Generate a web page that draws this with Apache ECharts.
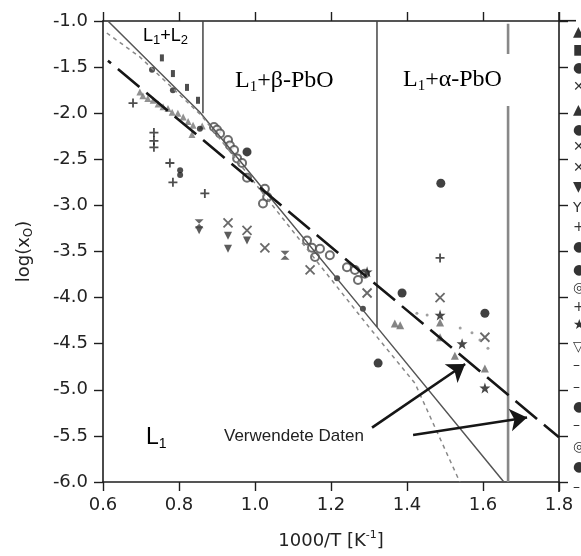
<!DOCTYPE html>
<html>
<head>
<meta charset="utf-8">
<script src="https://cdn.jsdelivr.net/npm/echarts@6.0.0/dist/echarts.min.js"></script>
<style>html,body{margin:0;padding:0;background:#fff;}#c{width:581px;height:556px;}</style>
</head>
<body>
<div id="c"></div>
<script>
// ---- data (1000/T [1/K], log(xO)) ----
const bandUpper = [[0.892,-2.15],[0.90,-2.18],[0.908,-2.22],[0.929,-2.29],[0.934,-2.35],[0.945,-2.40],[0.953,-2.49],[0.966,-2.54],[0.979,-2.70],[1.026,-2.82],[1.032,-2.91],[1.021,-2.98],[1.137,-3.38],[1.150,-3.46],[1.171,-3.47],[1.197,-3.54],[1.158,-3.56],[1.242,-3.67],[1.263,-3.70],[1.289,-3.74],[1.271,-3.81]];
const bandLower = [[0.697,-1.77],[0.705,-1.81],[0.718,-1.84],[0.732,-1.86],[0.745,-1.90],[0.758,-1.93],[0.771,-1.95],[0.782,-1.99],[0.797,-2.00],[0.811,-2.04],[0.824,-2.09],[0.837,-2.13],[0.834,-2.23],[0.861,-2.14]];
const barMarks = [[0.755,-1.40],[0.784,-1.57],[0.821,-1.72],[0.850,-1.86]];
const smallDots = [[0.729,-1.53],[0.784,-1.75],[0.803,-2.62],[0.803,-2.67],[0.855,-2.17],[1.216,-3.79],[1.284,-4.12]];
const bigDots = [[0.979,-2.42],[1.489,-2.76],[1.387,-3.95],[1.605,-4.17],[1.324,-4.71]];
const crosses = [[0.929,-3.19],[0.979,-3.27],[1.026,-3.46],[1.145,-3.70],[1.295,-3.95],[1.487,-4.00],[1.605,-4.43]];
const plusses = [[0.679,-1.89],[0.734,-2.21],[0.734,-2.30],[0.734,-2.37],[0.776,-2.54],[0.784,-2.75],[0.868,-2.87],[1.487,-3.57]];
const downTris = [[0.929,-3.33],[0.979,-3.38],[0.853,-3.27],[0.929,-3.47]];
const hourglasses = [[1.079,-3.54],[0.853,-3.20]];
const stars = [[1.295,-3.72],[1.487,-4.19],[1.545,-4.50],[1.605,-4.98]];
const grayTris = [[1.368,-4.28],[1.382,-4.30],[1.526,-4.63],[1.605,-4.77],[1.487,-4.27],[1.487,-4.43]];
const grayDots = [[1.426,-4.17],[1.453,-4.19],[1.54,-4.33],[1.571,-4.38],[1.592,-4.46],[1.613,-4.55]];

const liquidusSolid = [[0.613,-1.0],[0.855,-1.99],[1.321,-4.32],[1.655,-6.0]];
const liquidusDotted = [[0.61,-1.13],[0.697,-1.39],[0.86,-2.03],[1.092,-3.24],[1.30,-4.32],[1.421,-4.93],[1.539,-6.0]];
const usedDataLine = [[0.613,-1.43],[1.8,-5.515]];
const boundaryA = [[0.863,-1.0],[0.863,-2.0]];
const boundaryB = [[1.321,-1.0],[1.321,-4.32]];
const boundaryC = [[1.666,-1.03],[1.666,-6.0]];
const arrows = [[[1.308,-5.41],[1.553,-4.72]],[[1.416,-5.49],[1.716,-5.30]]];

const xMin = 0.6, xMax = 1.8, xStep = 0.2;
const yMin = -6.0, yMax = -1.0, yStep = 0.5;

// ---- chart ----
const chart = echarts.init(document.getElementById('c'), null, {renderer:'canvas'});
const AX = '#1e1e1e';
const tickFont = {fontFamily:'DejaVu Sans', fontSize:18, color:'#222'};
const crossPath = 'path://M0,0L10,10M10,0L0,10';
const plusPath = 'path://M5,0L5,10M0,5L10,5';
const hourPath = 'path://M0,0L10,0L0,10L10,10Z';
const starPath = 'path://M5,0L6.2,3.6L10,3.6L7,5.9L8.1,9.5L5,7.3L1.9,9.5L3,5.9L0,3.6L3.8,3.6Z';

function scat(data, symbol, size, itemStyle, rot){
  return {type:'scatter', data, symbol, symbolSize:size, symbolRotate:rot||0, itemStyle, silent:true, z:2};
}
function ln(data, style, z){
  return {type:'line', data, symbol:'none', lineStyle:style, silent:true, z:z||3, animation:false};
}

const option = {
  backgroundColor:'#fff',
  animation:false,
  grid:{left:103, top:21, width:456, height:461},
  xAxis:[{
    type:'value', min:xMin, max:xMax, interval:xStep, position:'bottom',
    axisLine:{lineStyle:{color:AX, width:1.6}},
    axisTick:{inside:false, length:9, lineStyle:{color:AX, width:1.4}},
    axisLabel:Object.assign({margin:14, formatter:v=>v.toFixed(1)}, tickFont),
    splitLine:{show:false},
    name:'{b|1000/T [K}{p|-1}{b|]}', nameLocation:'middle', nameGap:48,
    nameTextStyle:{rich:{b:{fontFamily:'DejaVu Sans', fontSize:18, color:'#222', lineHeight:22}, p:{fontFamily:'DejaVu Sans', fontSize:11, color:'#222', lineHeight:11, verticalAlign:'top'}}}
  },{
    type:'value', min:xMin, max:xMax, interval:xStep, position:'top',
    axisLine:{lineStyle:{color:AX, width:1.6}},
    axisTick:{inside:false, length:9, lineStyle:{color:AX, width:1.4}},
    axisLabel:{show:false}, splitLine:{show:false}
  }],
  yAxis:[{
    type:'value', min:yMin, max:yMax, interval:yStep, position:'left',
    axisLine:{lineStyle:{color:AX, width:1.6}},
    axisTick:{inside:false, length:9, lineStyle:{color:AX, width:1.4}},
    axisLabel:Object.assign({margin:15, formatter:v=>v.toFixed(1)}, tickFont),
    splitLine:{show:false},
    name:'{b|log(x}{s|O}{b|)}', nameLocation:'middle', nameGap:68, nameRotate:90,
    nameTextStyle:{rich:{b:{fontFamily:'DejaVu Sans', fontSize:18, color:'#222', lineHeight:22}, s:{fontFamily:'DejaVu Sans', fontSize:12, color:'#222', lineHeight:11, verticalAlign:'bottom'}}}
  },{
    type:'value', min:yMin, max:yMax, interval:yStep, position:'right',
    axisLine:{lineStyle:{color:AX, width:1.6}},
    axisTick:{inside:false, length:9, lineStyle:{color:AX, width:1.4}},
    axisLabel:{show:false}, splitLine:{show:false}
  }],
  series:[
    scat(bandUpper, 'emptyCircle', 8, {color:'#4a4a4a', borderColor:'#4a4a4a', borderWidth:1.8}),
    scat(bandLower, 'triangle', 7, {color:'#777'}),
    scat(barMarks, 'rect', [4,7], {color:'#222'}),
    scat(smallDots, 'circle', 6, {color:'#222'}),
    scat(bigDots, 'circle', 9, {color:'#111'}),
    scat(crosses, crossPath, 9, {color:'#444', borderColor:'#444', borderWidth:1.8}),
    scat(plusses, plusPath, 9, {color:'#222', borderColor:'#222', borderWidth:1.8}),
    scat(downTris, 'triangle', 8, {color:'#333'}, 180),
    scat(hourglasses, hourPath, 9, {color:'#444'}),
    scat(stars, starPath, 11, {color:'#1a1a1a'}),
    scat(grayTris, 'triangle', 8, {color:'#666'}),
    scat(grayDots, 'circle', 3, {color:'#888'}),
    ln(liquidusSolid, {color:'#555', width:1.5}),
    ln(liquidusDotted, {color:'#888', width:1.5, type:[4,4]}),
    ln(boundaryA, {color:'#444', width:1.5}),
    ln(boundaryB, {color:'#444', width:1.5}),
    ln(boundaryC, {color:'#888', width:2.6}),
    ln(usedDataLine, {color:'#161616', width:2.6, type:[28,9], dashOffset:24}, 5),
    {type:'scatter', data:[], silent:true, z:6,
     markLine:{silent:true, symbol:['none','arrow'], symbolSize:17, animation:false,
       label:{show:false}, lineStyle:{color:'#161616', width:2.6, type:'solid'},
       itemStyle:{color:'#161616'},
       emphasis:{disabled:true},
       data:arrows.map(a=>[{coord:a[0]},{coord:a[1]}])}}
  ],
  graphic:[]
};

// decorative labels and frame extensions
const serifRich = {
  m:{fontFamily:'Liberation Serif', fontSize:24, lineHeight:28, color:'#111'},
  s:{fontFamily:'Liberation Serif', fontSize:15, lineHeight:15, verticalAlign:'bottom', color:'#111'}
};
const sansRich = function(fs, sfs){
  return {m:{fontFamily:'Liberation Sans', fontSize:fs, lineHeight:fs+4, color:'#222'},
          s:{fontFamily:'Liberation Sans', fontSize:sfs, lineHeight:sfs, verticalAlign:'bottom', color:'#222'}};
};
option.graphic.push(
  {type:'text', x:143, y:36, z:100, style:{text:'{m|L}{s|1}{m|+L}{s|2}', rich:sansRich(18,13), align:'left', verticalAlign:'middle'}},
  {type:'text', x:235, y:81, z:100, style:{text:'{m|L}{s|1}{m|+β-PbO}', rich:serifRich, align:'left', verticalAlign:'middle'}},
  {type:'text', x:396, y:80, z:100, style:{text:'{m|L}{s|1}{m|+α-PbO}', rich:serifRich, align:'left', verticalAlign:'middle', backgroundColor:'#fff', padding:[12,9,12,7]}},
  {type:'text', x:146, y:438, z:100, style:{text:'{m|L}{s|1}', rich:sansRich(23,14), align:'left', verticalAlign:'middle'}},
  {type:'text', x:224, y:436, z:100, style:{text:'Verwendete Daten', fontFamily:'Liberation Sans', fontSize:17, fill:'#222', align:'left', verticalAlign:'middle'}},
  {type:'line', z:100, shape:{x1:559, y1:20.7, x2:576, y2:20.7}, style:{stroke:AX, lineWidth:1.6}},
  {type:'line', z:100, shape:{x1:559, y1:12, x2:559, y2:21}, style:{stroke:AX, lineWidth:1.6}},
  {type:'line', z:100, shape:{x1:559, y1:482, x2:559, y2:492}, style:{stroke:AX, lineWidth:1.6}}
);
// cropped legend column at the right edge
const legendGlyphs = ['▲','■','●','✕','▲','●','✕','✕','▼','Y','+','●','●','◎','+','★','▽','–','–','●','–','◎','●','–'];
const legendRows = [32,50,68,87,110,130,147,168,187,208,227,247,270,288,307,325,347,365,387,407,425,447,467,487];
legendGlyphs.forEach(function(g,i){
  option.graphic.push({type:'text', x:573, y:legendRows[i], z:100, style:{text:g, fontFamily:'DejaVu Sans', fontSize:14, fill:'#333', align:'left', verticalAlign:'middle'}});
});

chart.setOption(option);
</script>
</body>
</html>
